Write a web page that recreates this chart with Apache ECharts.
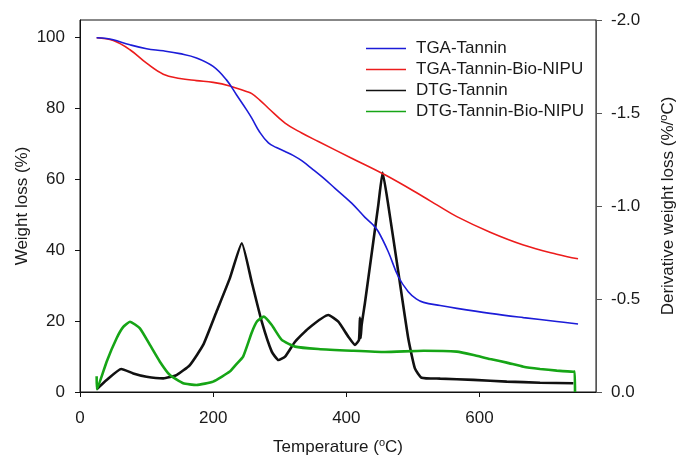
<!DOCTYPE html>
<html>
<head>
<meta charset="utf-8">
<script src="https://cdn.jsdelivr.net/npm/echarts@6/dist/echarts.min.js"></script>
<style>
html,body{margin:0;padding:0;background:#fff;}
#chart{width:678px;height:457px;}
</style>
</head>
<body>
<div id="chart"></div>
<script>
// ---- Data ----
const seriesNames = ['TGA-Tannin', 'TGA-Tannin-Bio-NIPU', 'DTG-Tannin', 'DTG-Tannin-Bio-NIPU'];

const tgaTanninT = [25, 40, 50, 75, 100, 125, 150, 175, 200, 220, 235, 250, 258, 270, 283, 295, 308, 320, 333, 350, 365, 383, 408, 428, 440, 448, 463, 478, 493, 505, 516, 541, 566, 616, 666, 716, 748];
const tgaTanninW = [100, 99.8, 99.4, 98, 96.9, 96.3, 95.5, 94.3, 91.9, 88.1, 83.9, 79.7, 77.3, 73.3, 70.3, 69.0, 67.9, 66.8, 65.3, 62.8, 60.5, 57.5, 53.3, 49.3, 47.2, 45.3, 39.6, 32.6, 28.3, 26.3, 25.3, 24.4, 23.6, 22.2, 21.0, 19.9, 19.2];

const tgaNipuT = [25, 50, 75, 100, 125, 150, 175, 200, 225, 250, 258, 270, 283, 308, 333, 358, 408, 458, 515, 536, 566, 616, 666, 716, 748];
const tgaNipuW = [100, 99.2, 96.6, 92.8, 89.7, 88.5, 87.9, 87.4, 86.4, 84.8, 84.2, 82.4, 80.1, 75.9, 73.1, 70.7, 66.0, 61.3, 55.2, 52.8, 49.5, 45.1, 41.5, 38.9, 37.6];

const dtgTanninT = [25, 40, 62, 80, 100, 125, 145, 165, 185, 205, 225, 243, 258, 273, 288, 298, 308, 323, 343, 373, 388, 403, 413, 419, 420.5, 421.5, 423, 428, 433, 448, 454.5, 463, 478, 493, 503, 513, 541, 591, 641, 691, 741];
const dtgTanninD = [-0.015, -0.065, -0.124, -0.10, -0.082, -0.073, -0.091, -0.145, -0.253, -0.432, -0.611, -0.80, -0.59, -0.378, -0.217, -0.172, -0.19, -0.27, -0.342, -0.414, -0.378, -0.297, -0.253, -0.28, -0.40, -0.29, -0.36, -0.48, -0.611, -1.005, -1.18, -1.005, -0.647, -0.289, -0.127, -0.077, -0.072, -0.065, -0.056, -0.05, -0.047];

const dtgNipuT = [25, 25.5, 40, 55, 65, 75, 90, 105, 120, 135, 155, 175, 200, 225, 235, 245, 258, 266, 276, 288, 303, 323, 358, 408, 458, 516, 566, 591, 616, 641, 666, 691, 716, 741, 743, 743.5];
const dtgNipuD = [-0.085, -0.015, -0.163, -0.289, -0.35, -0.378, -0.342, -0.253, -0.163, -0.091, -0.047, -0.038, -0.056, -0.11, -0.15, -0.19, -0.32, -0.38, -0.405, -0.36, -0.28, -0.244, -0.231, -0.222, -0.215, -0.222, -0.217, -0.199, -0.177, -0.158, -0.136, -0.124, -0.115, -0.109, -0.11, 0];

const xTicks = [0, 200, 400, 600];
const yLeftTicks = [0, 20, 40, 60, 80, 100];

// ---- Build ----
function zip(a, b) { return a.map((v, i) => [v, b[i]]); }
const FONT = 'Liberation Sans, Arial, sans-serif';
const TXT = '#1a1a1a';
const COLORS = ['#1c1cd8', '#ec1c1c', '#111111', '#16a516'];

const chart = echarts.init(document.getElementById('chart'), null, {renderer: 'canvas'});
chart.setOption({
  animation: false,
  backgroundColor: '#ffffff',
  textStyle: {fontFamily: FONT},
  grid: {left: 80, right: 82, top: 20, bottom: 65, show: true, borderColor: '#111', borderWidth: 1,
         containLabel: false, outerBoundsMode: 'none'},
  legend: {
    orient: 'vertical', left: 361, top: 35,
    icon: 'rect', itemWidth: 40, itemHeight: 1.6, itemGap: 4,
    textStyle: {fontSize: 17, color: TXT, fontFamily: FONT, padding: [0, 0, 0, 5]},
    data: seriesNames
  },
  xAxis: {
    type: 'value', min: 0, max: 775, interval: 200,
    name: 'Temperature ({sup|o}C)', nameLocation: 'middle', nameGap: 45, nameMoveOverlap: false,
    nameTextStyle: {fontSize: 17, color: TXT, fontFamily: FONT,
      rich: {sup: {fontSize: 11, color: TXT, fontFamily: FONT, padding: [0, 0, 9, 0]}}},
    axisLine: {show: true, onZero: false, lineStyle: {color: '#111', width: 1}},
    axisTick: {show: true, inside: false, length: 5, lineStyle: {color: '#111'}, customValues: xTicks},
    axisLabel: {fontSize: 17, color: TXT, margin: 18, customValues: xTicks},
    splitLine: {show: false}
  },
  yAxis: [{
    type: 'value', min: 0, max: 105, interval: 20, position: 'left',
    name: 'Weight loss (%)', nameLocation: 'middle', nameGap: 49, nameRotate: 90, nameMoveOverlap: false,
    nameTextStyle: {fontSize: 17, color: TXT, fontFamily: FONT},
    axisLine: {show: true, lineStyle: {color: '#111', width: 1}},
    axisTick: {show: true, length: 5, lineStyle: {color: '#111'}, customValues: yLeftTicks},
    axisLabel: {fontSize: 17, color: TXT, margin: 15, customValues: yLeftTicks},
    splitLine: {show: false}
  }, {
    type: 'value', min: -2, max: 0, interval: 0.5, inverse: true, position: 'right',
    name: 'Derivative weight loss (%/{sup|o}C)', nameLocation: 'middle', nameGap: 62, nameRotate: 90, nameMoveOverlap: false,
    nameTextStyle: {fontSize: 17, color: TXT, fontFamily: FONT,
      rich: {sup: {fontSize: 11, color: TXT, fontFamily: FONT, padding: [0, 0, 9, 0]}}},
    axisLine: {show: true, lineStyle: {color: '#555', width: 1}},
    axisTick: {show: true, length: 6, lineStyle: {color: '#555'}},
    axisLabel: {fontSize: 17, color: TXT, margin: 15, formatter: v => v.toFixed(1)},
    splitLine: {show: false}
  }],
  series: [
    {name: seriesNames[0], type: 'line', yAxisIndex: 0, symbol: 'none', smooth: 0.4,
     lineStyle: {color: COLORS[0], width: 1.6}, itemStyle: {color: COLORS[0]}, z: 4,
     data: zip(tgaTanninT, tgaTanninW)},
    {name: seriesNames[1], type: 'line', yAxisIndex: 0, symbol: 'none', smooth: 0.4,
     lineStyle: {color: COLORS[1], width: 1.6}, itemStyle: {color: COLORS[1]}, z: 3,
     data: zip(tgaNipuT, tgaNipuW)},
    {name: seriesNames[2], type: 'line', yAxisIndex: 1, symbol: 'none', smooth: 0.15,
     lineStyle: {color: COLORS[2], width: 2.6}, itemStyle: {color: COLORS[2]}, z: 2,
     data: zip(dtgTanninT, dtgTanninD)},
    {name: seriesNames[3], type: 'line', yAxisIndex: 1, symbol: 'none', smooth: 0.15,
     lineStyle: {color: COLORS[3], width: 2.6}, itemStyle: {color: COLORS[3]}, z: 2,
     data: zip(dtgNipuT, dtgNipuD)}
  ]
});
</script>
</body>
</html>
